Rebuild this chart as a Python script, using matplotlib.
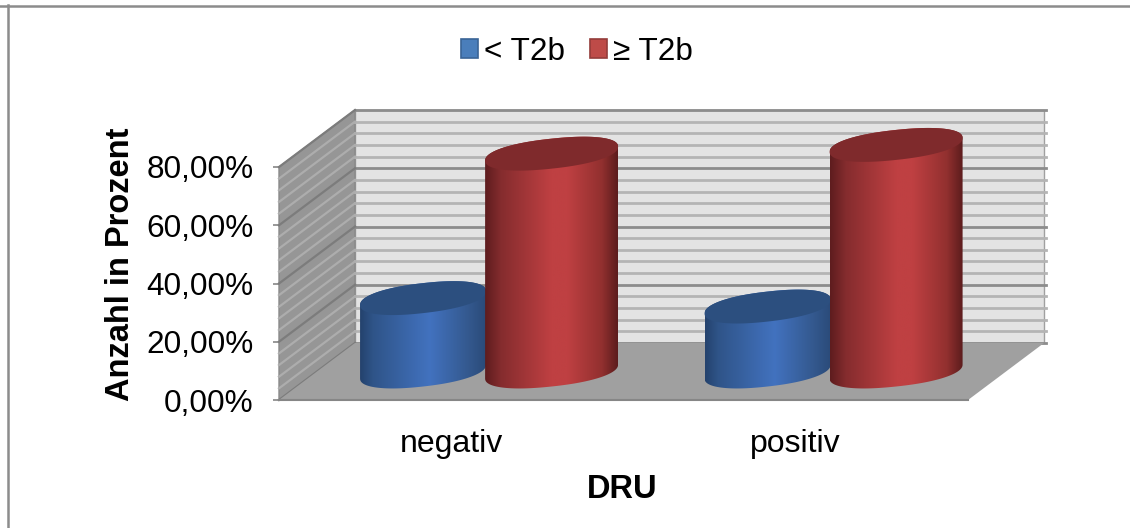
import numpy as np
import matplotlib
matplotlib.use('Agg')
import matplotlib.pyplot as plt
from matplotlib.lines import Line2D
from matplotlib.patches import Patch, PathPatch, Polygon
from matplotlib.path import Path

plt.rcParams['font.family'] = ['Liberation Sans', 'DejaVu Sans']

kategorien = ['negativ', 'positiv']
serien = ['< T2b', '≥ T2b']
werte_klein = [25.2, 22.3]
werte_gross = [74.8, 77.8]
y_ticks = [0, 20, 40, 60, 80]
y_labels = ['0,00%', '20,00%', '40,00%', '60,00%', '80,00%']

W, H = 1130, 528
DX, DY = 0.2206, 19.57     # depth of the 3d box in data units
EH, TILT = 5.15, 2.4       # ellipse half height and tilt
RUND = 0.9                 # <1 makes the ellipse a bit rounder at the shoulders


def grad(stops, n=200):
    pos = [s[0] for s in stops]
    rgb = [matplotlib.colors.to_rgb(s[1]) for s in stops]
    arr = np.array([[np.interp(i / (n - 1), pos, [c[k] for c in rgb]) for k in range(3)] for i in range(n)])
    return arr[np.newaxis, :, :]


blau = grad([(0, '#24426d'), (0.1, '#2f5488'), (0.55, '#4272bf'), (0.85, '#34598f'), (1, '#2a4a78')])
rot = grad([(0, '#5e1c1e'), (0.12, '#852c2e'), (0.5, '#bf4042'), (0.62, '#bf4042'), (0.88, '#92302f'), (1, '#5c1c1d')])


def arc(cx, cy, a, t):
    c = np.sign(np.cos(t)) * np.abs(np.cos(t)) ** RUND
    s = np.sign(np.sin(t)) * np.abs(np.sin(t)) ** RUND
    return np.column_stack([cx + a * c, cy + EH * s + TILT * c])


def zylinder(ax, cx, a, wert, bild, deckel, z):
    base = DY / 2
    top = base + wert
    unten = arc(cx, base, a, np.linspace(np.pi, 2 * np.pi, 80))
    oben = arc(cx, top, a, np.linspace(0, np.pi, 80))
    mantel = Path(np.vstack([unten, oben, unten[:1]]), closed=True)
    clip = PathPatch(mantel, fc='none', ec='none', transform=ax.transData)
    ax.add_patch(clip)
    im = ax.imshow(bild, extent=(cx - a, cx + a, base - 10, top + 10), aspect='auto', zorder=z, interpolation='bilinear')
    im.set_clip_path(clip)
    im.set_clip_box(fig.bbox)
    ax.add_patch(Polygon(arc(cx, top, a, np.linspace(0, 2 * np.pi, 160)), closed=True, fc=deckel, ec='none',
                         zorder=z + 0.1, clip_on=False))


fig = plt.figure(figsize=(W / 100, H / 100), dpi=100)
fig.add_artist(Line2D([0, 1], [1 - 5.5 / H, 1 - 5.5 / H], color='#8c8c8c', lw=1.8))
fig.add_artist(Line2D([8 / W, 8 / W], [0, 1 - 5 / H], color='#8c8c8c', lw=1.8))

ax = fig.add_axes([279 / W, 1 - 400 / H, 689 / W, 233 / H])
ax.patch.set_visible(False)

# back wall, left wall, floor
ax.add_patch(Polygon([(DX, DY), (2 + DX, DY), (2 + DX, 80 + DY), (DX, 80 + DY)], fc='#e3e3e3', ec='#a0a0a0',
                     lw=1, zorder=1, clip_on=False))
ax.add_patch(Polygon([(0, 0), (DX, DY), (DX, 80 + DY), (0, 80)], fc='#969696', ec='#8a8a8a', lw=1, zorder=1,
                     clip_on=False))
for g in np.arange(0, 81, 4):
    major = g % 20 == 0
    ax.plot([DX, 2 + DX + 0.006], [g + DY, g + DY], color='#8c8c8c' if major else '#b4b4b4',
            lw=2, zorder=2, clip_on=False)
    ax.plot([0, DX], [g, g + DY], color='#7c7c7c' if major else '#adadad', lw=1.6, zorder=2, clip_on=False)
ax.add_patch(Polygon([(0, 0), (DX, DY), (2 + DX, DY), (2, 0)], fc='#a0a0a0', ec='none', zorder=3, clip_on=False))

x = np.arange(len(kategorien)) + 0.5
for i in range(len(kategorien)):
    zylinder(ax, x[i] + DX / 2 - 0.192, 0.183, werte_klein[i], blau, '#2c4f7f', 4)
    zylinder(ax, x[i] + DX / 2 + 0.181, 0.193, werte_gross[i], rot, '#7f2a2c', 5)

ax.set_xlim(0, 2)
ax.set_ylim(0, 80)
ax.set_xticks(x, kategorien, fontsize=23)
ax.set_yticks(y_ticks, y_labels, fontsize=22.7)
ax.tick_params(axis='x', length=0, pad=21)
ax.tick_params(axis='y', length=4, width=1.2, color='#868686', pad=14.5)
for s in ['top', 'right', 'left']:
    ax.spines[s].set_visible(False)
ax.spines['bottom'].set_color('#868686')
ax.spines['bottom'].set_linewidth(1.5)
ax.spines['bottom'].set_zorder(3.5)

ax.set_ylabel('Anzahl in Prozent', fontsize=23.5, fontweight='bold')
ax.yaxis.set_label_coords(-0.207, 0.584)
ax.set_xlabel('DRU', fontsize=23.5, fontweight='bold')
ax.xaxis.set_label_coords(0.498, -0.386)
ax.xaxis.label.set_verticalalignment('center')

griffe = [Patch(fc='#4a7ebb', ec='#3a6496', lw=1.2), Patch(fc='#be4b48', ec='#943c3a', lw=1.2)]
fig.legend(griffe, serien, loc='center', bbox_to_anchor=(577 / W, 1 - 52 / H), ncol=2, frameon=False, fontsize=22.7,
           handlelength=0.54, handleheight=0.54, handletextpad=0.18, columnspacing=0.8)

fig.savefig('out.png', dpi=100)
